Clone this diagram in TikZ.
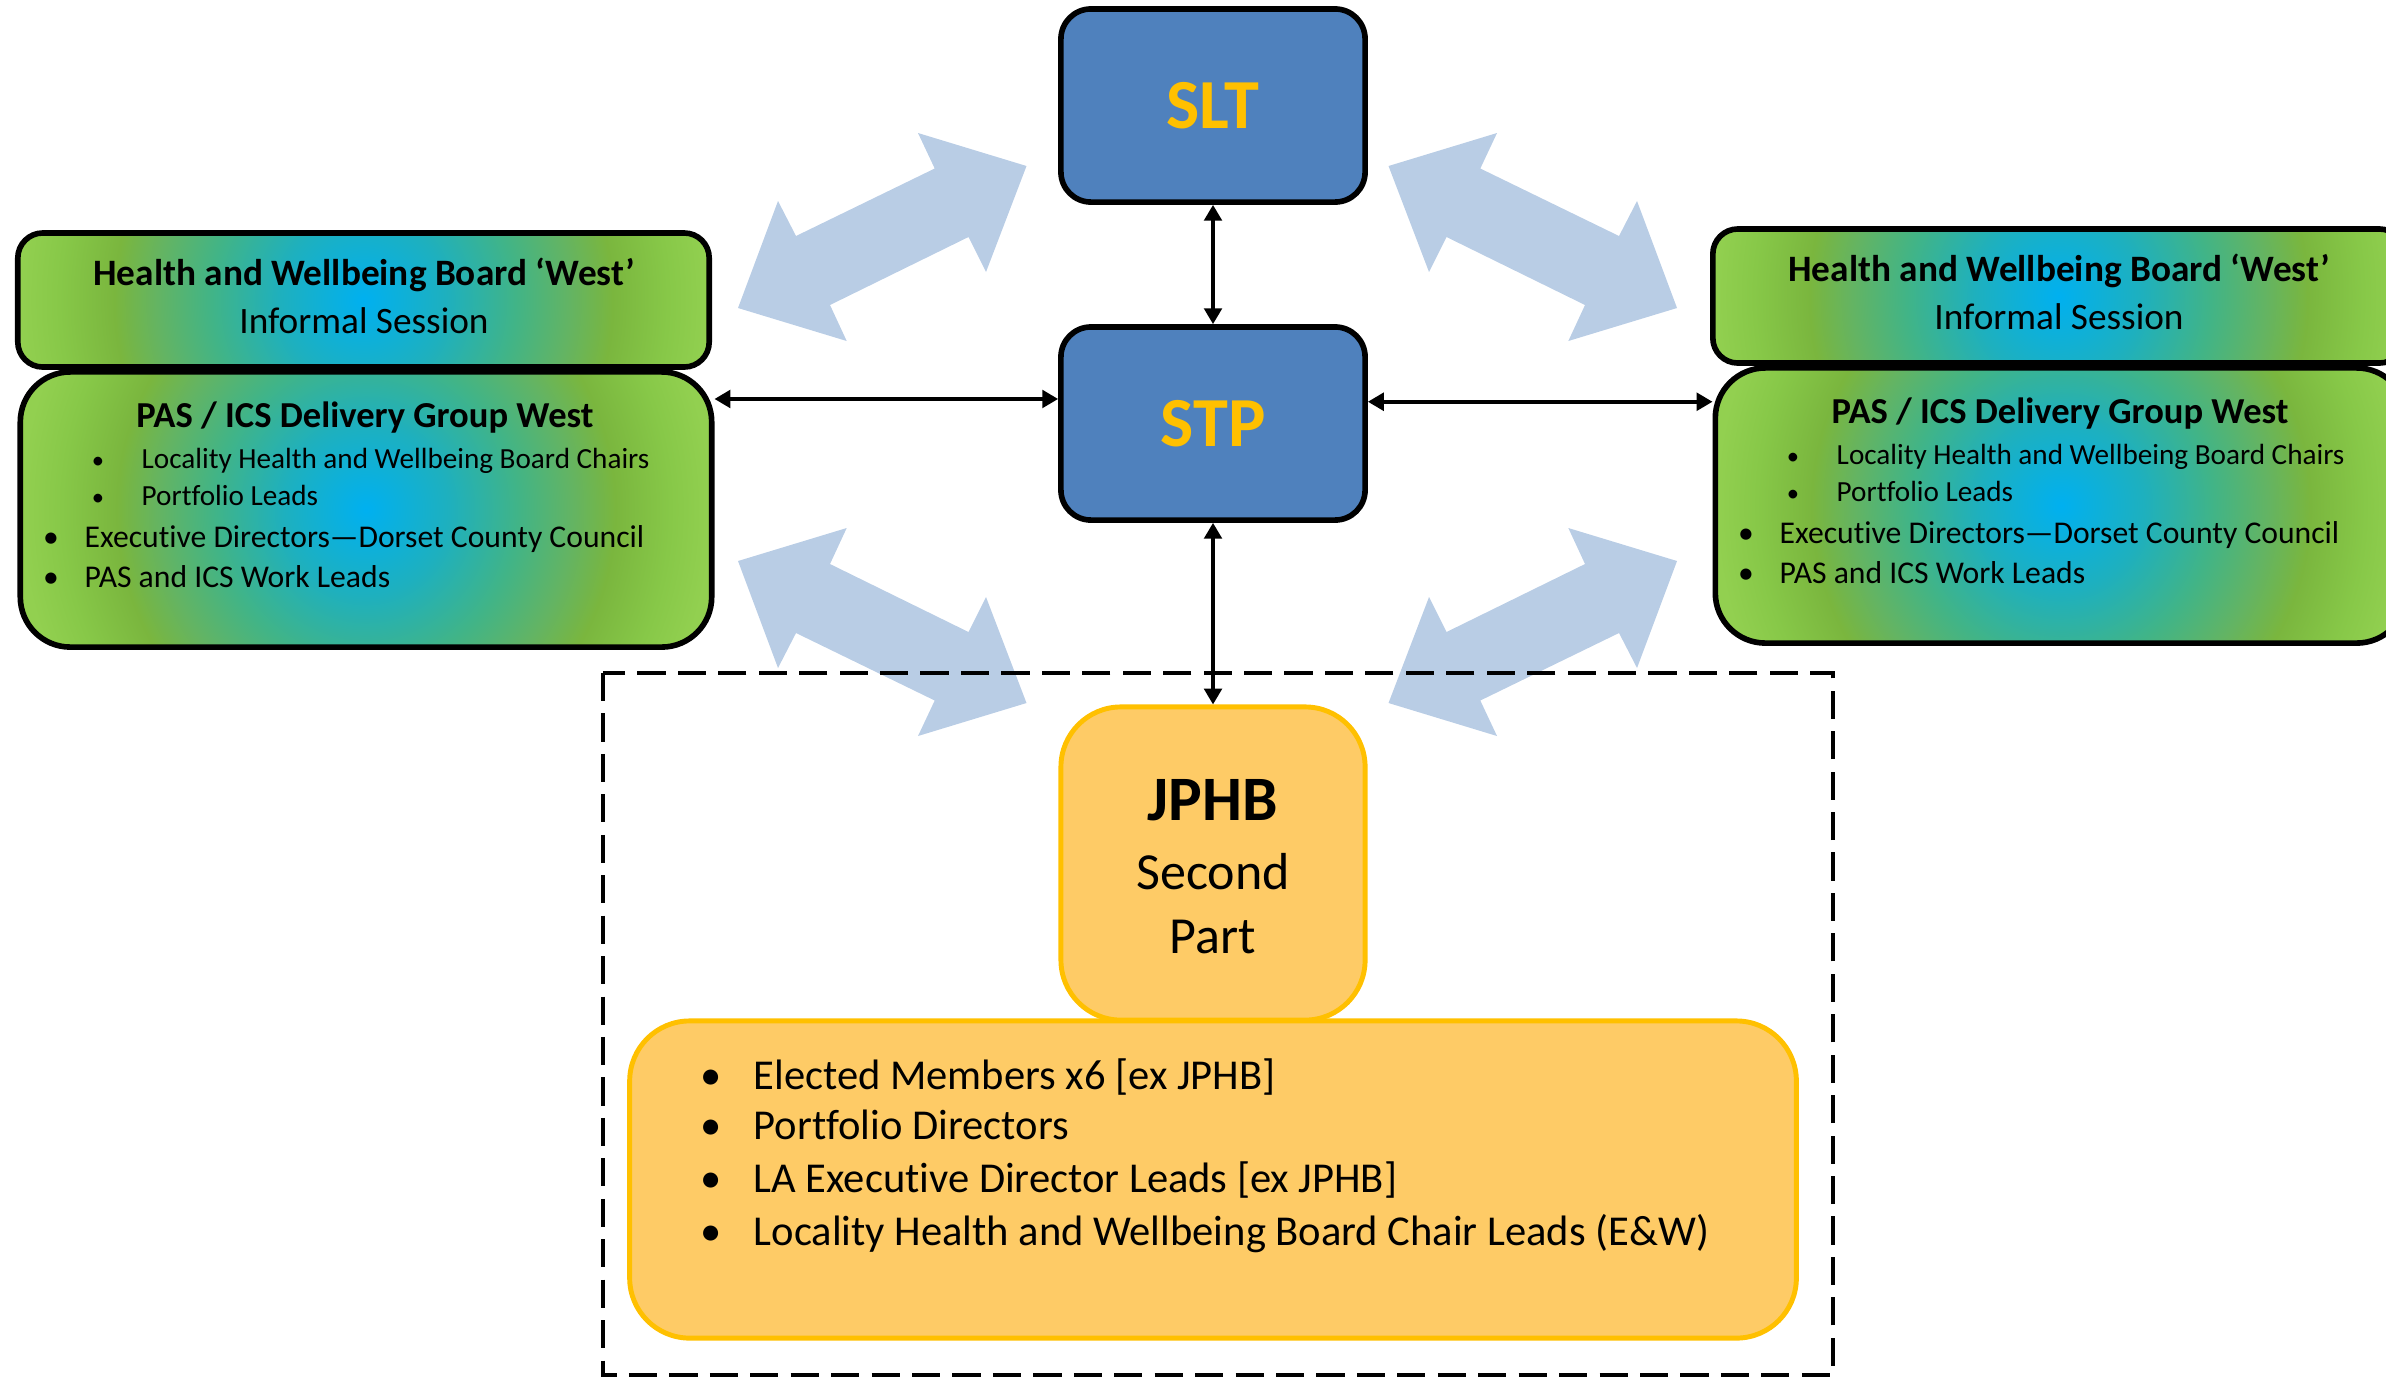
\documentclass[tikz,border=0pt]{standalone}
\usepackage{fontspec}
\setmainfont{Carlito}[Ligatures=NoCommon]
\usetikzlibrary{arrows.meta,positioning}

\definecolor{stpblue}{HTML}{4F81BD}
\definecolor{gold}{HTML}{FFC000}
\definecolor{jphbfill}{HTML}{FECB66}
\definecolor{flowblue}{HTML}{B9CDE5}
\definecolor{hwgreen}{RGB}{146,208,80}
\definecolor{hwlime}{RGB}{135,200,72}
\definecolor{hwolive}{RGB}{122,182,62}
\definecolor{hwmoss}{RGB}{100,180,98}
\definecolor{hwsea}{RGB}{65,180,135}
\definecolor{hwteal}{RGB}{30,176,190}
\definecolor{hwcyan}{RGB}{0,176,240}

% the box edge sits at 25bp
\pgfdeclareradialshading{hwbshade}{\pgfpoint{0bp}{0bp}}{%
  color(0bp)=(hwcyan); color(6bp)=(hwteal); color(11bp)=(hwsea); color(15bp)=(hwmoss);
  color(18bp)=(hwolive); color(22bp)=(hwlime); color(25bp)=(hwgreen); color(50bp)=(hwgreen)}

\tikzset{
  lead/.style={draw, line width=1.6pt, rounded corners=0.3cm, fill=stpblue, text=gold,
    font=\bfseries\fontsize{20}{24}\selectfont, minimum width=3.04cm, minimum height=1.93cm},
  board/.style={draw, line width=1.6pt, rounded corners=0.25cm, fill=hwgreen,
    minimum width=6.91cm, minimum height=1.34cm,
    path picture={\shade[shading=hwbshade]
      ([xshift=-3.455cm,yshift=3.6cm]path picture bounding box.center) rectangle
      ([xshift=3.455cm,yshift=-3.6cm]path picture bounding box.center);}},
  pasbox/.style={board, rounded corners=0.5cm, minimum height=2.75cm},
  member/.style={draw=gold, line width=1.4pt, fill=jphbfill, rounded corners=0.6cm},
  link/.style={line width=1pt, {Triangle[length=4.5pt,width=5pt]}-{Triangle[length=4.5pt,width=5pt]}},
  flow/.style={fill=flowblue},
  dashframe/.style={line width=1.2pt, dash pattern=on 8pt off 3.5pt},
  hwhead/.style={font=\bfseries\fontsize{10.6}{12}\selectfont, anchor=base, inner sep=0pt},
  hwsub/.style={font=\fontsize{10.6}{12}\selectfont, anchor=base, inner sep=0pt},
  pashead/.style={font=\bfseries\fontsize{10.4}{12}\selectfont, anchor=base, inner sep=0pt},
  subitem/.style={font=\fontsize{8.3}{10}\selectfont, anchor=base west, inner sep=0pt},
  subdot/.style={font=\fontsize{7}{10}\selectfont, anchor=base, inner sep=0pt},
  topitem/.style={font=\fontsize{9}{11}\selectfont, anchor=base west, inner sep=0pt},
  topdot/.style={font=\fontsize{9}{11}\selectfont, anchor=base, inner sep=0pt},
  jtext/.style={font=\fontsize{14.8}{18}\selectfont, anchor=base, inner sep=0pt},
  jitem/.style={font=\fontsize{12.1}{14}\selectfont, anchor=base west, inner sep=0pt},
  jdot/.style={font=\fontsize{12.1}{14}\selectfont, anchor=base, inner sep=0pt}
}

\begin{document}
\begin{tikzpicture}[x=0.01cm, y=-0.01cm]
\useasboundingbox (0,0) rectangle (2386,1378);

% light blue two-way arrows
\foreach \sx/\sy in {1/1,-1/1,1/-1,-1/-1}
  \fill[flow, shift={(1207.5,434.5)}, xscale=\sx, yscale=\sy]
    (-289.5,-301.5) -- (-181,-268.5) -- (-221.5,-162.5) -- (-239,-197.5) -- (-377.5,-129.5)
    -- (-360.8,-93.5) -- (-469.5,-126.5) -- (-429.5,-233.5) -- (-411.5,-198.5) -- (-272.8,-266) -- cycle;

\draw[dashframe] (603,673) rectangle (1833,1375);

\node[lead] (slt) at (1213,105.5) {SLT};
\node[lead] (stp) at (1213,423.5) {STP};

% JPHB
\node[member, minimum width=3.04cm, minimum height=3.13cm] (jphb) at (1213,863.5) {};
\node[font=\bfseries\fontsize{18}{20}\selectfont, anchor=base, inner sep=0pt] (jphbname) at (1213,820.5) {JPHB};
\node[jtext] (jphbsec) at (1213,889) {Second};
\node[jtext] (jphbpart) at (1213,953.5) {Part};

\node[member, minimum width=11.66cm, minimum height=3.17cm] (members) at (1213,1179.5) {};
\foreach \y/\t [count=\i] in {1089/Elected Members x6 [ex JPHB], 1139/Portfolio Directors,
    1192/LA Executive Director Leads [ex JPHB], 1245/Locality Health and Wellbeing Board Chair Leads (E\&W)} {
  \node[jdot] (memdot\i) at (711,\y) {\textbullet};
  \node[jitem] (mem\i) at (753,\y) {\t};
}

% west groups, left and right
\foreach \side/\dx/\dy in {l/0/0, r/1695/-4} {
  \begin{scope}[shift={(\dx,\dy)}]
    \node[board] (\side hwb) at (363.5,300) {};
    \node[pasbox] (\side pas) at (366,509.5) {};
    \node[hwhead] (\side hwbname) at (364,285) {Health and Wellbeing Board ‘West’};
    \node[hwsub] (\side hwbsess) at (364,333) {Informal Session};
    \node[pashead] (\side pasname) at (365,427) {PAS / ICS Delivery Group West};
    \node[subdot] (\side dot1) at (98,468) {\textbullet};
    \node[subitem] (\side item1) at (141,468) {Locality Health and Wellbeing Board Chairs};
    \node[subdot] (\side dot2) at (98,505) {\textbullet};
    \node[subitem] (\side item2) at (141,505) {Portfolio Leads};
    \node[topdot] (\side dot3) at (51,547) {\textbullet};
    \node[topitem] (\side item3) at (84,547) {Executive Directors—Dorset County Council};
    \node[topdot] (\side dot4) at (51,587) {\textbullet};
    \node[topitem] (\side item4) at (84,587) {PAS and ICS Work Leads};
  \end{scope}
}

\draw[link] (slt) -- (stp);
\draw[link] (stp) -- (jphb);
\draw[link] (stp.171.2 -| lpas.east) -- (stp.171.2);
\draw[link] (stp.8.8) -- (stp.8.8 -| rpas.west);
\end{tikzpicture}
\end{document}
